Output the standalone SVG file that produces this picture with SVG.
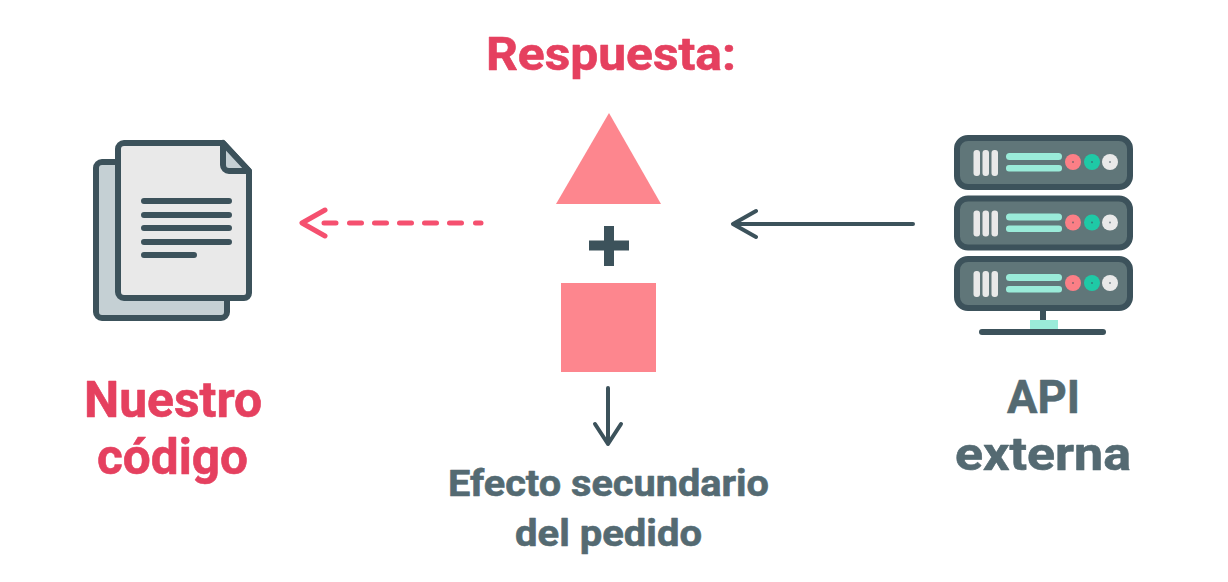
<svg xmlns="http://www.w3.org/2000/svg" width="1228" height="582" viewBox="0 0 1228 582">
<style>
.t{font-family:"Roboto","Liberation Sans",sans-serif;font-weight:700;text-anchor:middle;stroke-width:.6;stroke-linejoin:round}
.r{fill:#e5405f;stroke:#e5405f}.g{fill:#546a72;stroke:#546a72}
.o{stroke:#3c525b;stroke-linecap:round;stroke-linejoin:round;fill:none}
.srv{fill:#607679;stroke:#3c525b;stroke-width:6}
.w{fill:#e9e9e9}.m{fill:#9aebd9}
.d{fill:#3c525b;opacity:.6}
</style>
<defs>
<g id="server">
<rect class="srv" x="957" y="138" width="173" height="49" rx="11"/>
<rect class="w" x="973.500" y="150" width="6.500" height="26" rx="3"/>
<rect class="w" x="982.500" y="150" width="6.500" height="26" rx="3"/>
<rect class="w" x="991.500" y="150" width="6.500" height="26" rx="3"/>
<rect class="m" x="1006" y="153" width="56" height="7" rx="3.500"/>
<rect class="m" x="1006" y="165" width="56" height="6.500" rx="3"/>
<circle cx="1073" cy="162" r="8" fill="#fb7f86"/><circle cx="1092" cy="162" r="8" fill="#1fc9a6"/><circle cx="1110" cy="162" r="8" fill="#e9e9e9"/>
<circle class="d" cx="1073" cy="162" r="1"/><circle class="d" cx="1092" cy="162" r="1"/><circle class="d" cx="1110" cy="162" r="1"/>
</g>
</defs>
<rect width="1228" height="582" fill="#fff"/>
<g id="titulo"><text class="t r" x="611" y="70" font-size="47" textLength="250" lengthAdjust="spacingAndGlyphs">Respuesta:</text></g>
<g id="nuestro-codigo">
<path d="M118 162H102a6 6 0 0 0-6 6V312a6 6 0 0 0 6 6H221a6 6 0 0 0 6-6V299" fill="#c5d0d4" stroke="#3c525b" stroke-width="6" stroke-linejoin="round"/>
<path d="M124 143H223L249 171V293a5 5 0 0 1-5 5H124a6 6 0 0 1-6-6V149a6 6 0 0 1 6-6Z" fill="#e9e9e9" stroke="#3c525b" stroke-width="6" stroke-linejoin="round"/>
<path d="M223 143V165a6 6 0 0 0 6 6H249Z" fill="#c5d0d4" stroke="#3c525b" stroke-width="6" stroke-linejoin="round"/>
<path class="o" stroke-width="6" d="M144 201H229M144 215H229M144 228H229M144 242H229M144 255H194"/>
<text class="t r" x="173" y="417" font-size="50" textLength="178" lengthAdjust="spacingAndGlyphs">Nuestro</text>
<text class="t r" x="172.500" y="474" font-size="50" textLength="151" lengthAdjust="spacingAndGlyphs">código</text>
</g>
<g id="triangulo"><polygon points="609,113 661,204 556,204" fill="#fd868e"/></g>
<g id="mas"><path d="M609 231V261M594 245.500H624" stroke="#3c525b" stroke-width="10" stroke-linecap="square" stroke-linejoin="round" fill="none"/></g>
<g id="cuadrado"><rect x="561" y="283" width="95" height="89" fill="#fd868e"/></g>
<g id="api-externa">
<use href="#server"/><use href="#server" y="60.500"/><use href="#server" y="121"/>
<path d="M1043 310V322" stroke="#3c525b" stroke-width="6"/>
<rect x="1030" y="320" width="28" height="9" fill="#9aebd9"/>
<path class="o" stroke-width="6" d="M982 332H1103"/>
<text class="t g" x="1043.500" y="413" font-size="47" textLength="73" lengthAdjust="spacingAndGlyphs">API</text>
<text class="t g" x="1043" y="470" font-size="47" textLength="176" lengthAdjust="spacingAndGlyphs">externa</text>
</g>
<g id="efecto"><text class="t g" x="608.500" y="496" font-size="37" textLength="321" lengthAdjust="spacingAndGlyphs">Efecto secundario</text><text class="t g" x="608.500" y="546" font-size="37" textLength="187" lengthAdjust="spacingAndGlyphs">del pedido</text></g>
<g id="connectors">
<path d="M324 223H336M349.500 223H361.500M374.500 223H386.500M399.500 223H411.500M424.500 223H436.500M449.500 223H461.500M475.500 223H481" stroke="#f5506f" stroke-width="5" stroke-linecap="round" fill="none"/>
<path d="M325 210L302 223L325 236" stroke="#f5506f" stroke-width="5" stroke-linecap="round" stroke-linejoin="round" fill="none"/>
<path class="o" stroke-width="4" d="M913 224H734M756 211L733 224L756 237"/>
<path class="o" stroke-width="4" d="M608 388V444M595 424L608 444L621 424"/>
</g>
</svg>
